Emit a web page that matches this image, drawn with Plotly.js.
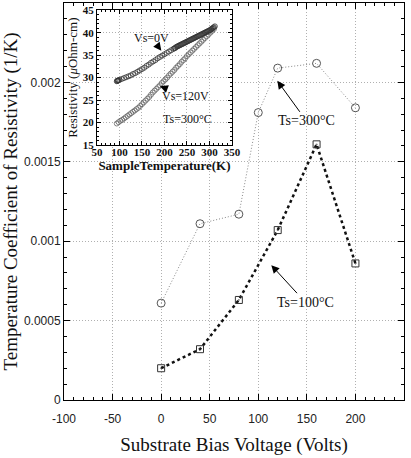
<!DOCTYPE html>
<html>
<head>
<meta charset="utf-8">
<script src="https://cdn.plot.ly/plotly-3.0.1.min.js"></script>
<style>
html,body{margin:0;padding:0;background:#fff;}
#chart{width:411px;height:458px;}
</style>
</head>
<body>
<div id="chart"></div>
<script>
// Main chart data
var biasTs300 = [0, 40, 80, 100, 120, 160, 200];
var tcrTs300 = [0.00061, 0.00111, 0.00117, 0.00181, 0.00209, 0.00212, 0.00184];
var biasTs100 = [0, 40, 80, 120, 160, 200];
var tcrTs100 = [0.00020, 0.00032, 0.00063, 0.00107, 0.00161, 0.00086];
var biasTickVals = [-100, -50, 0, 50, 100, 150, 200, 250];
var biasTickText = ['-100', '-50', '0', '50', '100', '150', '200', '250'];

// Inset data: resistivity vs sample temperature (Ts=300°C)
var tempVs0 = [94, 95, 96, 97, 98, 100, 105, 110, 115, 120, 125, 130, 135, 140, 145, 150, 155, 160, 165, 170, 175, 180, 185, 190, 195, 200, 205, 210, 215, 220, 222, 224, 226, 228, 230, 232, 234, 236, 238, 240, 242, 244, 246, 248, 250, 252, 254, 256, 258, 260, 262, 264, 266, 268, 270, 272, 274, 276, 278, 280, 282, 284, 286, 288, 290, 292, 294, 296, 298, 300, 302, 304, 306, 308, 310, 312];
var resVs0 = [29.2, 29.3, 29.3, 29.4, 29.4, 29.5, 29.7, 29.9, 30.1, 30.3, 30.5, 30.8, 31.0, 31.3, 31.6, 31.9, 32.2, 32.6, 32.9, 33.3, 33.6, 33.9, 34.3, 34.6, 34.9, 35.2, 35.5, 35.8, 36.1, 36.4, 36.5, 36.6, 36.8, 36.9, 37.0, 37.1, 37.2, 37.3, 37.4, 37.5, 37.6, 37.7, 37.8, 37.9, 38.0, 38.1, 38.2, 38.3, 38.4, 38.5, 38.6, 38.7, 38.8, 38.9, 39.0, 39.1, 39.2, 39.3, 39.4, 39.5, 39.6, 39.7, 39.8, 39.9, 40.0, 40.1, 40.2, 40.3, 40.4, 40.5, 40.6, 40.8, 40.9, 41.1, 41.2, 41.4];
var tempVs120 = [94, 98, 102, 106, 110, 114, 118, 122, 126, 130, 134, 138, 142, 146, 150, 154, 158, 162, 166, 170, 174, 178, 182, 186, 190, 194, 198, 202, 206, 210, 214, 218, 222, 226, 230, 234, 238, 242, 246, 250, 254, 258, 262, 266, 270, 274, 278, 282, 286, 290, 294, 298, 302, 306, 310];
var resVs120 = [19.8, 20.1, 20.4, 20.6, 20.9, 21.2, 21.5, 21.8, 22.1, 22.4, 22.7, 23.0, 23.3, 23.7, 24.1, 24.5, 24.9, 25.3, 25.7, 26.2, 26.7, 27.1, 27.5, 27.9, 28.3, 28.8, 29.2, 29.6, 30.0, 30.5, 30.9, 31.3, 31.7, 32.2, 32.6, 33.0, 33.5, 33.9, 34.3, 34.8, 35.2, 35.6, 36.0, 36.4, 36.8, 37.2, 37.6, 38.0, 38.4, 38.8, 39.2, 39.6, 40.0, 40.4, 40.8];

var SERIF = '"Liberation Serif", "Times New Roman", serif';
var SANS = '"Liberation Sans", Arial, sans-serif';

var traces = [
  {x: biasTs300, y: tcrTs300, xaxis: 'x', yaxis: 'y', mode: 'lines+markers',
   line: {color: '#888', width: 1, dash: '1px,2px'},
   marker: {symbol: 'circle-open', size: 8, color: '#555', line: {width: 1}},
   showlegend: false, hoverinfo: 'skip'},
  {x: biasTs100, y: tcrTs100, xaxis: 'x', yaxis: 'y', mode: 'lines+markers',
   line: {color: '#111', width: 2.5, dash: 'dot'},
   marker: {symbol: 'square-open-dot', size: 7, color: '#333', line: {width: 1}},
   showlegend: false, hoverinfo: 'skip'},
  {x: tempVs120, y: resVs120, xaxis: 'x2', yaxis: 'y2', mode: 'markers',
   marker: {symbol: 'circle-open', size: 5, color: '#666', line: {width: 0.8}},
   showlegend: false, hoverinfo: 'skip'},
  {x: tempVs0, y: resVs0, xaxis: 'x2', yaxis: 'y2', mode: 'markers',
   marker: {symbol: 'circle-open', size: 5, color: '#333', line: {width: 0.8}},
   showlegend: false, hoverinfo: 'skip'}
];

var gridStyle = {showgrid: true, gridcolor: '#b0b0b0', gridwidth: 1, griddash: '1px,2px'};

var layout = {
  width: 411, height: 458,
  margin: {l: 64, r: 7, t: 3, b: 58},
  paper_bgcolor: '#fff', plot_bgcolor: '#fff',
  showlegend: false,
  xaxis: Object.assign({
    domain: [0, 1], anchor: 'y', range: [-100, 250],
    tickmode: 'array', tickvals: biasTickVals, ticktext: biasTickText,
    ticks: 'inside', ticklen: 6, tickcolor: '#000', mirror: 'ticks',
    showline: true, linecolor: '#000', linewidth: 1, zeroline: false,
    minor: {tickmode: 'linear', dtick: 10, tick0: 0, ticks: 'inside', ticklen: 3, tickcolor: '#000', showgrid: false},
    tickfont: {family: SANS, size: 12, color: '#222'}, ticklabelstandoff: 8,
    title: {text: 'Substrate Bias Voltage (Volts)', font: {family: SERIF, size: 19, color: '#111'}, standoff: 12}
  }, gridStyle),
  yaxis: Object.assign({
    domain: [0, 1], anchor: 'x', range: [0, 0.0025], dtick: 0.0005, tick0: 0,
    exponentformat: 'none',
    ticks: 'inside', ticklen: 6, tickcolor: '#000', mirror: 'ticks',
    showline: true, linecolor: '#000', linewidth: 1, zeroline: false,
    minor: {dtick: 0.0001, ticks: 'inside', ticklen: 3, tickcolor: '#000', showgrid: false},
    tickfont: {family: SANS, size: 12, color: '#222'},
    title: {text: 'Temperature Coefficient of Resistivity (1/K)', font: {family: SERIF, size: 19, color: '#111'}, standoff: 5}
  }, gridStyle),
  xaxis2: Object.assign({
    domain: [0.097, 0.494], anchor: 'y2', range: [50, 350], dtick: 50, tick0: 0,
    ticks: 'inside', ticklen: 4, tickcolor: '#000', mirror: 'ticks',
    showline: true, linecolor: '#000', linewidth: 1, zeroline: false,
    minor: {dtick: 10, ticks: 'inside', ticklen: 2, tickcolor: '#000', showgrid: false},
    tickfont: {family: SERIF, size: 11, color: '#111', weight: 'bold'}, ticklabelstandoff: -3,
    title: {text: 'SampleTemperature(K)', font: {family: SERIF, size: 13, color: '#111', weight: 'bold'}, standoff: 0}
  }, gridStyle),
  yaxis2: Object.assign({
    domain: [0.642, 0.982], anchor: 'x2', range: [15, 45], dtick: 5, tick0: 0,
    ticks: 'inside', ticklen: 4, tickcolor: '#000', mirror: 'ticks',
    showline: true, linecolor: '#000', linewidth: 1, zeroline: false,
    minor: {dtick: 1, ticks: 'inside', ticklen: 2, tickcolor: '#000', showgrid: false},
    tickfont: {family: SERIF, size: 11, color: '#111', weight: 'bold'}, ticklabelstandoff: 0,
    title: {text: 'Resistivity (<i>μ</i>Ohm-cm)', font: {family: SERIF, size: 13, color: '#111'}, standoff: 2}
  }, gridStyle),
  annotations: [
    {xref: 'x', yref: 'y', x: 119.6, y: 0.00201, ax: 29, ay: 40, text: 'Ts=300°C',
     showarrow: true, arrowhead: 2, arrowsize: 1.6, arrowwidth: 1, arrowcolor: '#000',
     font: {family: SERIF, size: 14, color: '#111'}},
    {xref: 'x', yref: 'y', x: 113.4, y: 0.000849, ax: 34, ay: 37, text: 'Ts=100°C',
     showarrow: true, arrowhead: 2, arrowsize: 1.6, arrowwidth: 1, arrowcolor: '#000',
     font: {family: SERIF, size: 14, color: '#111'}},
    {xref: 'x2', yref: 'y2', x: 193, y: 36.0, ax: -10, ay: -13, text: 'Vs=0V',
     showarrow: true, arrowhead: 2, arrowsize: 1.6, arrowwidth: 1, arrowcolor: '#000',
     font: {family: SERIF, size: 12, color: '#111'}},
    {xref: 'x2', yref: 'y2', x: 190, y: 28.1, ax: 26, ay: 10, text: 'Vs=120V',
     showarrow: true, arrowhead: 2, arrowsize: 1.6, arrowwidth: 1, arrowcolor: '#000',
     font: {family: SERIF, size: 12, color: '#111'}},
    {xref: 'x2', yref: 'y2', x: 250.7, y: 20.9, text: 'Ts=300°C', showarrow: false,
     font: {family: SERIF, size: 12, color: '#111'}}
  ]
};

Plotly.newPlot('chart', traces, layout, {displayModeBar: false, staticPlot: true});
</script>
</body>
</html>
